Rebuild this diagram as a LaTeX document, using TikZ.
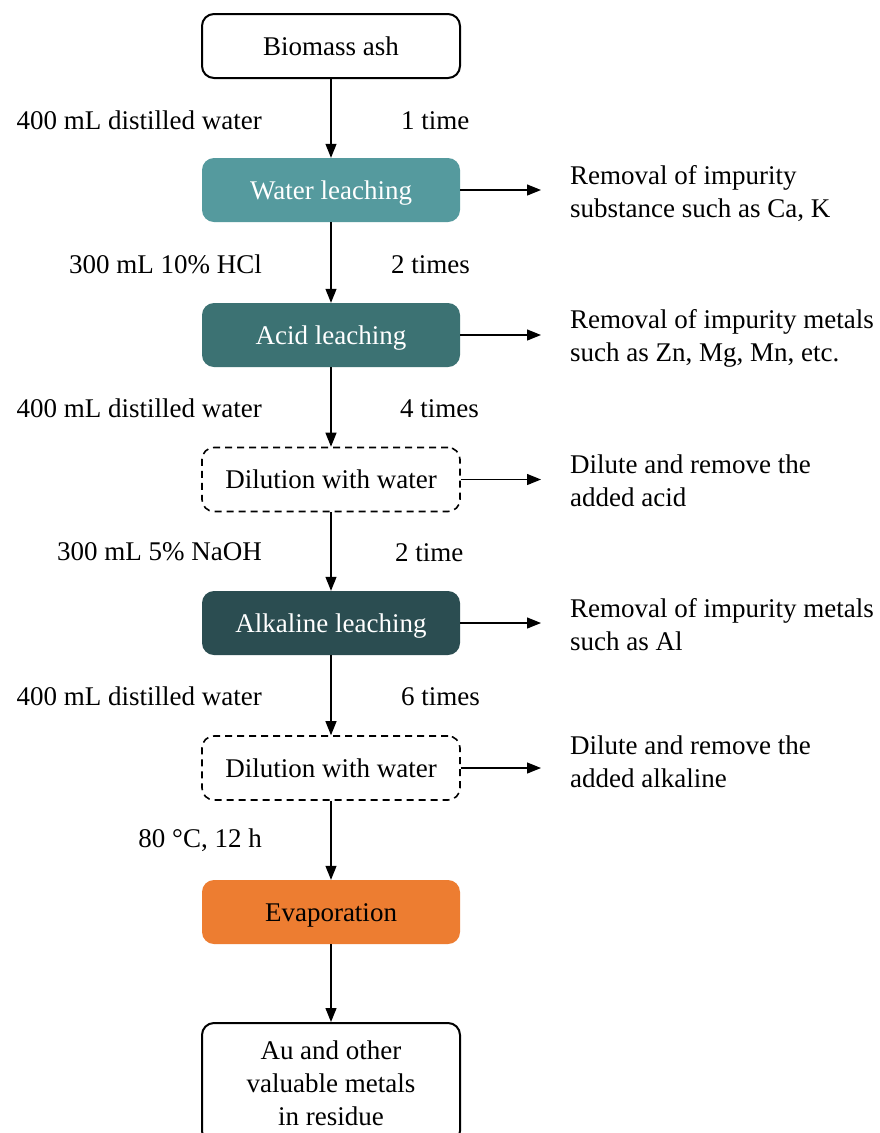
\documentclass[tikz,border=0pt]{standalone}
\usepackage{fontspec}
\setmainfont{Liberation Serif}
\usetikzlibrary{arrows.meta}
\definecolor{waterc}{HTML}{559A9E}
\definecolor{acidc}{HTML}{3C7273}
\definecolor{alkc}{HTML}{2B4D51}
\definecolor{evapc}{HTML}{ED7D31}
\tikzset{
  box/.style={rounded corners=12pt, minimum width=258pt, minimum height=64pt, inner sep=0pt, align=center},
  oneline/.style={text height=18.5pt, text depth=0pt},
  plainbox/.style={box, draw=black, line width=2pt, fill=white},
  dashbox/.style={box, oneline, draw=black, line width=1.6pt, dashed, dash pattern=on 7pt off 5pt},
  fillbox/.style={box, oneline, fill=#1, text=white},
  flow/.style={line width=1.2pt, -{Triangle[length=14pt,width=11pt]}},
  side/.style={line width=1.2pt, -{Triangle[length=14pt,width=11pt]}},
  lbl/.style={anchor=east, inner sep=0pt},
  rlbl/.style={anchor=west, inner sep=0pt},
  note/.style={anchor=west, align=left, inner sep=0pt},
}
\begin{document}
\begin{tikzpicture}[x=1pt,y=-1pt]
\clip (0,0) rectangle (880,1133);
\fill[white] (0,0) rectangle (880,1133);
\fontsize{27}{33}\selectfont
\node[plainbox, oneline] (ash) at (331,46) {Biomass ash};
\node[fillbox=waterc] (wl) at (331,190) {Water leaching};
\node[fillbox=acidc] (al) at (331,335) {Acid leaching};
\node[dashbox] (d1) at (331,479.5) {Dilution with water};
\node[fillbox=alkc] (kl) at (331,623) {Alkaline leaching};
\node[dashbox] (d2) at (331,768) {Dilution with water};
\node[box, oneline, fill=evapc, text=black] (ev) at (331,912) {Evaporation};
\node[plainbox, minimum height=120pt] (res) at (331,1083) {Au and other\\valuable metals\\in residue};

\draw[flow] (ash) -- (wl);
\draw[flow] (wl) -- (al);
\draw[flow] (al) -- (d1);
\draw[flow] (d1) -- (kl);
\draw[flow] (kl) -- (d2);
\draw[flow] (d2) -- (ev);
\draw[flow] (ev) -- (res);

\node[lbl] (l1) at (262,120) {400 mL distilled water};
\node[lbl] (l2) at (262,264) {300 mL 10\% HCl};
\node[lbl] (l3) at (262,408) {400 mL distilled water};
\node[lbl] (l4) at (262,552) {300 mL 5\% NaOH};
\node[lbl] (l5) at (262,696) {400 mL distilled water};
\node[lbl] (l6) at (262,840) {80 °C, 12 h};

\node[rlbl] (r1) at (401,121) {1 time};
\node[rlbl] (r2) at (391,265) {2 times};
\node[rlbl] (r3) at (400,409) {4 times};
\node[rlbl] (r4) at (395,553) {2 time};
\node[rlbl] (r5) at (401,697) {6 times};

\coordinate (e1) at (541,190);
\coordinate (e2) at (541,335);
\coordinate (e3) at (541,479.5);
\coordinate (e4) at (541,623);
\coordinate (e5) at (541,768);
\draw[side] (wl.east) -- (e1);
\draw[side] (al.east) -- (e2);
\draw[side] (d1.east) -- (e3);
\draw[side] (kl.east) -- (e4);
\draw[side] (d2.east) -- (e5);

\node[note] (n1) at (570,194) {Removal of impurity\\substance such as Ca, K};
\node[note] (n2) at (570,338) {Removal of impurity metals\\such as Zn, Mg, Mn, etc.};
\node[note] (n3) at (570,481) {Dilute and remove the\\added acid};
\node[note] (n4) at (570,625) {Removal of impurity metals\\such as Al};
\node[note] (n5) at (570,762) {Dilute and remove the\\added alkaline};
\end{tikzpicture}
\end{document}
